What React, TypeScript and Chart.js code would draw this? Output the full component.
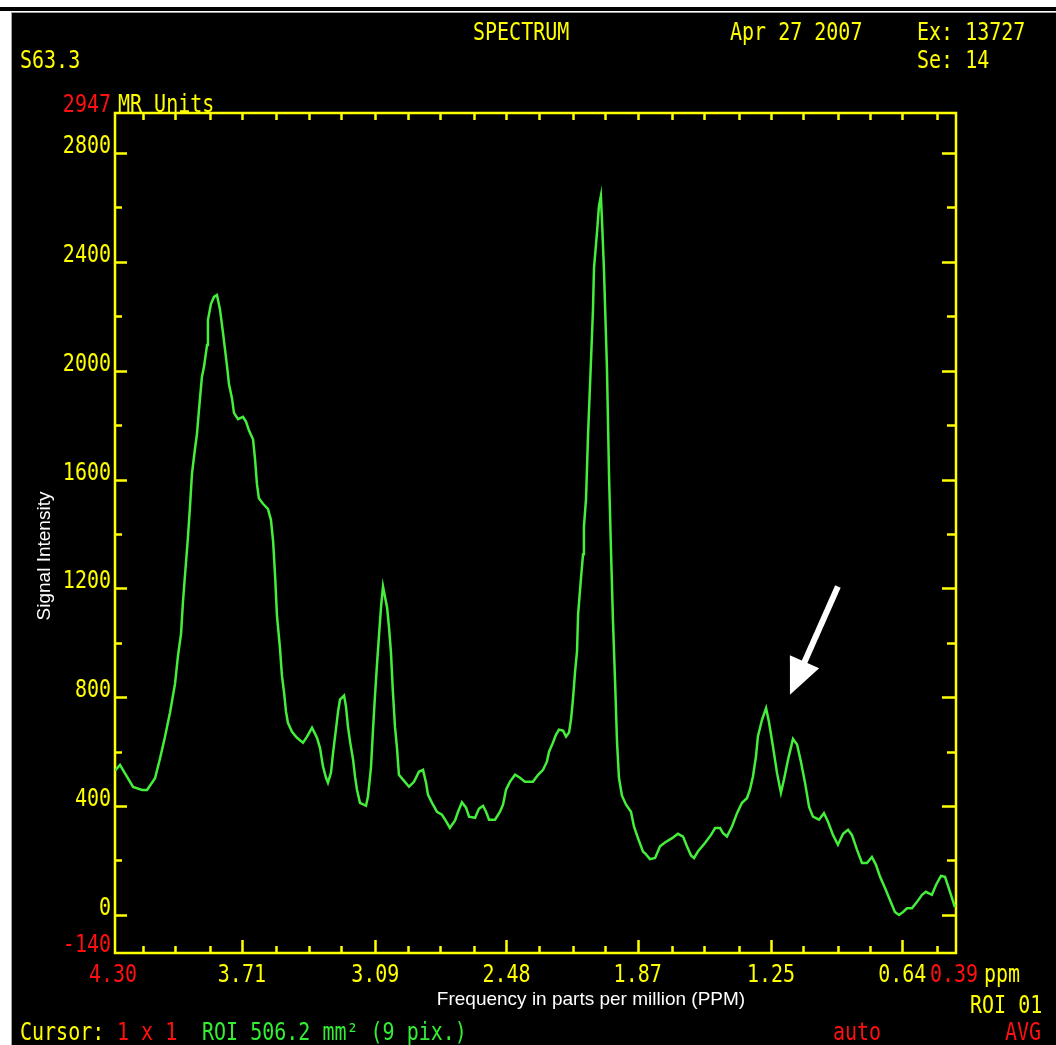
import React, { useEffect, useRef } from 'react';
import { Chart, registerables } from 'chart.js';

Chart.register(...registerables);

const W = 1056;
const H = 1045;

// Frequency axis (ppm) and signal intensity (MR units), read left to right
const ppm = [
  4.300, 4.277, 4.216, 4.174, 4.151, 4.114, 4.091, 4.068, 4.044, 4.021,
  4.007, 3.993, 3.984, 3.970, 3.961, 3.951, 3.942, 3.928, 3.919, 3.910,
  3.896, 3.886, 3.872, 3.868, 3.854, 3.840, 3.826, 3.812, 3.798, 3.789,
  3.779, 3.770, 3.756, 3.747, 3.728, 3.705, 3.691, 3.677, 3.658, 3.649,
  3.640, 3.631, 3.612, 3.589, 3.575, 3.565, 3.556, 3.547, 3.533, 3.524,
  3.514, 3.505, 3.496, 3.477, 3.454, 3.426, 3.407, 3.384, 3.361, 3.347,
  3.333, 3.319, 3.310, 3.296, 3.286, 3.273, 3.263, 3.254, 3.235, 3.226,
  3.217, 3.207, 3.193, 3.184, 3.175, 3.161, 3.133, 3.124, 3.110, 3.100,
  3.091, 3.082, 3.073, 3.063, 3.054, 3.045, 3.035, 3.026, 3.017, 3.008,
  2.998, 2.989, 2.980, 2.961, 2.933, 2.910, 2.887, 2.868, 2.854, 2.845,
  2.826, 2.803, 2.780, 2.761, 2.743, 2.719, 2.705, 2.687, 2.668, 2.654,
  2.626, 2.608, 2.589, 2.575, 2.561, 2.533, 2.510, 2.496, 2.482, 2.464,
  2.440, 2.417, 2.394, 2.357, 2.333, 2.310, 2.292, 2.282, 2.264, 2.250,
  2.236, 2.217, 2.203, 2.189, 2.180, 2.171, 2.161, 2.152, 2.147, 2.134,
  2.124, 2.120, 2.110, 2.101, 2.087, 2.078, 2.073, 2.059, 2.050, 2.041,
  2.036, 2.027, 2.013, 2.003, 1.994, 1.985, 1.975, 1.966, 1.957, 1.943,
  1.924, 1.901, 1.887, 1.869, 1.845, 1.836, 1.813, 1.789, 1.766, 1.743,
  1.710, 1.683, 1.659, 1.641, 1.622, 1.608, 1.590, 1.557, 1.529, 1.510,
  1.487, 1.473, 1.455, 1.431, 1.408, 1.385, 1.362, 1.348, 1.334, 1.320,
  1.311, 1.292, 1.273, 1.259, 1.241, 1.222, 1.204, 1.190, 1.171, 1.148,
  1.129, 1.111, 1.092, 1.073, 1.055, 1.027, 1.004, 0.985, 0.962, 0.939,
  0.915, 0.892, 0.874, 0.850, 0.827, 0.804, 0.781, 0.762, 0.743, 0.720,
  0.697, 0.674, 0.655, 0.636, 0.618, 0.595, 0.571, 0.548, 0.530, 0.502,
  0.483, 0.460, 0.441, 0.418, 0.395,
];

const intensity = [
  530, 551, 470, 459, 459, 502, 574, 653, 745, 849,
  954, 1033, 1151, 1295, 1387, 1505, 1623, 1714, 1767, 1852,
  1976, 2016, 2094, 2186, 2245, 2271, 2278, 2225, 2140, 2081,
  2016, 1950, 1898, 1845, 1822, 1830, 1813, 1780, 1747, 1675,
  1583, 1531, 1511, 1492, 1452, 1374, 1250, 1100, 980, 880,
  817, 747, 706, 673, 651, 633, 655, 688, 651, 614,
  545, 504, 486, 522, 596, 681, 747, 791, 806, 765,
  692, 636, 570, 508, 460, 412, 401, 434, 541, 688,
  809, 920, 1023, 1133, 1207, 1170, 1130, 1056, 964, 820,
  688, 614, 515, 497, 471, 489, 526, 533, 486, 442,
  412, 379, 368, 345, 320, 347, 379, 414, 394, 361,
  357, 390, 401, 379, 350, 350, 379, 405, 460, 489,
  515, 504, 489, 489, 515, 533, 563, 600, 633, 662,
  681, 677, 655, 670, 717, 791, 894, 968, 1104, 1233,
  1325, 1424, 1531, 1759, 2038, 2219, 2377, 2509, 2605, 2642,
  2553, 2377, 2016, 1611, 1339, 1085, 857, 636, 504, 438,
  405, 379, 324, 283, 232, 227, 205, 209, 252, 266,
  282, 298, 288, 252, 218, 209, 233, 264, 294, 319,
  319, 300, 288, 326, 374, 412, 429, 460, 509, 582,
  656, 717, 760, 706, 619, 521, 449, 497, 570, 647,
  626, 563, 486, 397, 361, 350, 374, 342, 294, 258,
  298, 313, 294, 239, 191, 191, 213, 184, 140, 99,
  55, 11, 0, 11, 24, 24, 48, 74, 85, 74,
  110, 143, 140, 85, 29,
];

// Axis ranges and ticks
const X_MIN = 0.39;
const X_MAX = 4.30;
const Y_MIN = -140;
const Y_MAX = 2947;
const xTickPpm = [
  4.17, 4.02, 3.86, 3.71, 3.55, 3.40, 3.25, 3.09, 2.94, 2.79, 2.63, 2.48,
  2.33, 2.17, 2.02, 1.87, 1.71, 1.56, 1.40, 1.25, 1.10, 0.94, 0.79, 0.64, 0.48,
];
const xMajorPpm = [3.71, 3.09, 2.48, 1.87, 1.25, 0.64];
const xMajorLabels = ['3.71', '3.09', '2.48', '1.87', '1.25', '0.64'];
const yMajorTicks = [0, 400, 800, 1200, 1600, 2000, 2400, 2800];
const yMajorLabels = ['0', '400', '800', '1200', '1600', '2000', '2400', '2800'];
const yMinorTicks = [200, 600, 1000, 1400, 1800, 2200, 2600];

// Annotation arrow (data coordinates)
const arrowTail = { ppm: 0.939, value: 1207 };
const arrowTip = { ppm: 1.162, value: 809 };

const YELLOW = '#ffff00';
const RED = '#ff1010';
const GREEN_TXT = '#33ee33';
const CURVE = '#44ee3a';
const MONO = '20px "DejaVu Sans Mono"';

function mono(ctx: CanvasRenderingContext2D, s: string, x: number, y: number, color: string, align: CanvasTextAlign = 'left') {
  ctx.save();
  ctx.translate(x, y);
  ctx.scale(1, 1.2);
  ctx.font = MONO;
  ctx.fillStyle = color;
  ctx.textAlign = align;
  ctx.textBaseline = 'alphabetic';
  ctx.fillText(s, 0, 0);
  ctx.restore();
}

const scannerPlugin = {
  id: 'scannerPlugin',
  beforeDraw(chart: any) {
    const ctx: CanvasRenderingContext2D = chart.ctx;
    ctx.save();
    ctx.fillStyle = '#ffffff';
    ctx.fillRect(0, 0, W, H);
    ctx.fillStyle = '#000000';
    ctx.fillRect(0, 7, W, 4);
    ctx.fillStyle = '#a0a0a0';
    ctx.fillRect(11, 12, 1, H - 12);
    ctx.fillRect(11, 12, W - 11, 1);
    ctx.fillStyle = '#000000';
    ctx.fillRect(12, 13, W - 12, H - 13);
    ctx.restore();
  },
  beforeDatasetsDraw(chart: any) {
    const ctx: CanvasRenderingContext2D = chart.ctx;
    const { left, right, top, bottom } = chart.chartArea;
    const xs = chart.scales.x;
    const ys = chart.scales.y;
    ctx.save();
    ctx.strokeStyle = YELLOW;
    ctx.lineWidth = 2.5;
    ctx.strokeRect(left, top, right - left, bottom - top);
    ctx.beginPath();
    // top & bottom ticks
    xTickPpm.forEach((v) => {
      const px = Math.round(xs.getPixelForValue(v)) + 0.5;
      const major = xMajorPpm.includes(v);
      ctx.moveTo(px, top);
      ctx.lineTo(px, top + 7);
      ctx.moveTo(px, bottom);
      ctx.lineTo(px, bottom - (major ? 13 : 7));
    });
    // left & right ticks
    yMajorTicks.forEach((v) => {
      const py = Math.round(ys.getPixelForValue(v)) + 0.5;
      ctx.moveTo(left, py);
      ctx.lineTo(left + 12, py);
      ctx.moveTo(right, py);
      ctx.lineTo(right - 14, py);
    });
    yMinorTicks.forEach((v) => {
      const py = Math.round(ys.getPixelForValue(v)) + 0.5;
      ctx.moveTo(left, py);
      ctx.lineTo(left + 7, py);
      ctx.moveTo(right, py);
      ctx.lineTo(right - 9, py);
    });
    ctx.stroke();
    ctx.restore();
  },
  afterDraw(chart: any) {
    const ctx: CanvasRenderingContext2D = chart.ctx;
    const { left, right, top, bottom } = chart.chartArea;
    const xs = chart.scales.x;
    const ys = chart.scales.y;

    // header
    mono(ctx, 'SPECTRUM', 473, 40, YELLOW);
    mono(ctx, 'Apr 27 2007', 730, 40, YELLOW);
    mono(ctx, 'Ex: 13727', 917, 40, YELLOW);
    mono(ctx, 'S63.3', 20, 68, YELLOW);
    mono(ctx, 'Se: 14', 917, 68, YELLOW);
    mono(ctx, String(Y_MAX), left - 4, top - 1, RED, 'right');
    mono(ctx, 'MR Units', left + 3, top - 1, YELLOW);

    // y labels
    yMajorTicks.forEach((v, i) => {
      mono(ctx, yMajorLabels[i], left - 4, Math.round(ys.getPixelForValue(v)), YELLOW, 'right');
    });
    mono(ctx, String(Y_MIN), left - 4, bottom - 1, RED, 'right');

    // x labels
    const ly = bottom + 29;
    mono(ctx, X_MAX.toFixed(2), xs.getPixelForValue(X_MAX) - 2, ly, RED, 'center');
    xMajorPpm.forEach((v, i) => {
      mono(ctx, xMajorLabels[i], xs.getPixelForValue(v), ly, YELLOW, 'center');
    });
    mono(ctx, X_MIN.toFixed(2), xs.getPixelForValue(X_MIN) - 2, ly, RED, 'center');
    mono(ctx, 'ppm', right + 28, ly, YELLOW);
    mono(ctx, 'ROI 01', 970, 1013, YELLOW);

    // status line
    mono(ctx, 'Cursor:', 20, 1040, YELLOW);
    mono(ctx, '1 x 1', 117, 1040, RED);
    mono(ctx, 'ROI 506.2 mm\u00b2 (9 pix.)', 202, 1040, GREEN_TXT);
    mono(ctx, 'auto', 833, 1040, RED);
    mono(ctx, 'AVG', 1005, 1040, RED);

    // axis titles
    ctx.save();
    ctx.fillStyle = '#ffffff';
    ctx.font = '19px "Liberation Sans", Arial, sans-serif';
    ctx.textAlign = 'center';
    ctx.textBaseline = 'alphabetic';
    ctx.fillText('Frequency in parts per million (PPM)', 591, 1005);
    ctx.translate(50, 556);
    ctx.rotate(-Math.PI / 2);
    ctx.fillText('Signal Intensity', 0, 0);
    ctx.restore();

    // arrow
    const tx = xs.getPixelForValue(arrowTail.ppm);
    const ty = ys.getPixelForValue(arrowTail.value);
    const hx = xs.getPixelForValue(arrowTip.ppm);
    const hy = ys.getPixelForValue(arrowTip.value);
    const dx = hx - tx;
    const dy = hy - ty;
    const len = Math.hypot(dx, dy);
    const ux = dx / len;
    const uy = dy / len;
    const headLen = 36;
    const halfW = 16;
    const bx = hx - ux * headLen;
    const by = hy - uy * headLen;
    ctx.save();
    ctx.strokeStyle = '#ffffff';
    ctx.fillStyle = '#ffffff';
    ctx.lineWidth = 6;
    ctx.beginPath();
    ctx.moveTo(tx, ty);
    ctx.lineTo(bx + ux * 2, by + uy * 2);
    ctx.stroke();
    ctx.beginPath();
    ctx.moveTo(hx, hy);
    ctx.lineTo(bx - uy * halfW, by + ux * halfW);
    ctx.lineTo(bx + uy * halfW, by - ux * halfW);
    ctx.closePath();
    ctx.fill();
    ctx.restore();
  },
};

export default function App() {
  const ref = useRef<HTMLCanvasElement>(null);

  useEffect(() => {
    const canvas = ref.current;
    if (!canvas) return;
    const points = ppm.map((p, i) => ({ x: p, y: intensity[i] }));
    const chart = new Chart(canvas, {
      type: 'line',
      data: {
        datasets: [
          {
            data: points,
            borderColor: CURVE,
            borderWidth: 2.5,
            pointRadius: 0,
            tension: 0,
            fill: false,
          },
        ],
      },
      options: {
        animation: false,
        responsive: false,
        devicePixelRatio: 1,
        layout: { padding: { left: 115, right: W - 956, top: 113, bottom: H - 953 } },
        scales: {
          x: { type: 'linear', reverse: true, min: X_MIN, max: X_MAX, display: false },
          y: { type: 'linear', min: Y_MIN, max: Y_MAX, display: false },
        },
        plugins: {
          legend: { display: false },
          tooltip: { enabled: false },
        },
      },
      plugins: [scannerPlugin],
    } as any);
    return () => chart.destroy();
  }, []);

  return (
    <div style={{ position: 'absolute', left: 0, top: 0, width: W, height: H }}>
      <canvas ref={ref} width={W} height={H} style={{ display: 'block', width: W, height: H }} />
    </div>
  );
}
